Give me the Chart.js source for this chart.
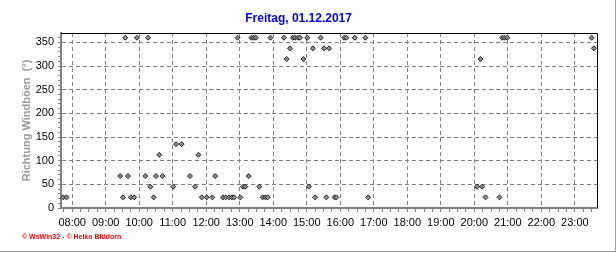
<!DOCTYPE html>
<html>
<head>
<meta charset="utf-8">
<script src="https://cdn.jsdelivr.net/npm/chart.js@4/dist/chart.umd.min.js"></script>
<style>
  body { margin: 0; background: #fff; }
  #wrap { position: relative; width: 616px; height: 253px; }
  #frame { position: absolute; left: 0; top: 0; width: 615px; height: 251px;
           border-right: 1px solid #a0a0a0; border-bottom: 1px solid #a0a0a0; pointer-events: none; }
  #footer { position: absolute; left: 22px; top: 233px; line-height: 10px;
            font: bold 7px "Liberation Sans", Arial, sans-serif; color: #ff0000; white-space: nowrap; }
</style>
</head>
<body>
<div id="wrap">
  <canvas id="chart" width="616" height="253"></canvas>
  <div id="frame"></div>
  <div id="footer">© WsWin32 - © Heiko Blüdorn</div>
</div>
<script>
// readings (time of day, gust direction in degrees)
const times = [
  '07:44', '07:50', '09:26', '09:31', '09:35', '09:40', '09:45', '09:51', '09:56',
  '10:11', '10:16', '10:20', '10:26', '10:30', '10:36', '10:42',
  '11:01', '11:06', '11:16', '11:31', '11:40', '11:46', '11:52',
  '12:01', '12:11', '12:16', '12:30', '12:35', '12:41', '12:46', '12:50', '12:56',
  '13:01', '13:06', '13:10', '13:16', '13:21', '13:25', '13:29', '13:35', '13:41', '13:46', '13:50', '13:55',
  '14:19', '14:24', '14:30', '14:35', '14:39', '14:44', '14:48', '14:54',
  '15:01', '15:04', '15:11', '15:15', '15:25', '15:31', '15:35', '15:40', '15:50', '15:53',
  '16:07', '16:11', '16:26', '16:45', '16:50',
  '20:05', '20:11', '20:14', '20:20', '20:45', '20:50', '20:54', '20:59',
  '23:30', '23:34'
];
const directions = [
  22.5, 22.5, 67.5, 22.5, 360, 67.5, 22.5, 22.5, 360,
  67.5, 360, 45, 22.5, 67.5, 112.5, 67.5,
  45, 135, 135, 67.5, 45, 112.5, 22.5,
  22.5, 22.5, 67.5, 22.5, 22.5, 22.5, 22.5, 22.5, 360,
  22.5, 45, 45, 67.5, 360, 360, 360, 45, 22.5, 22.5, 22.5, 360,
  360, 315, 337.5, 360, 360, 360, 360, 315,
  360, 45, 337.5, 22.5, 360, 337.5, 22.5, 337.5, 22.5, 22.5,
  360, 360, 360, 360, 22.5,
  45, 315, 45, 22.5, 22.5, 360, 360, 360,
  360, 337.5
];

const xStart = '07:40';
const xEnd = '23:40';
const yMax = 370;

function toMin(t) {
  const p = t.split(':');
  return parseInt(p[0]) * 60 + parseInt(p[1]);
}
function pad(n) {
  return (n < 10 ? '0' : '') + n;
}

const points = times.map((t, i) => ({ x: toMin(t), y: directions[i] }));

// black top/right frame of the plot
const plotFrame = {
  id: 'plotFrame',
  afterDraw(chart) {
    const a = chart.chartArea;
    const ctx = chart.ctx;
    ctx.save();
    ctx.strokeStyle = '#000';
    ctx.lineWidth = 1;
    ctx.beginPath();
    ctx.moveTo(a.left, Math.floor(a.top) + 0.5);
    ctx.lineTo(Math.floor(a.right) + 0.5, Math.floor(a.top) + 0.5);
    ctx.lineTo(Math.floor(a.right) + 0.5, a.bottom);
    ctx.stroke();
    ctx.restore();
  }
};

const gridGray = '#808080';

new Chart(document.getElementById('chart'), {
  type: 'scatter',
  data: {
    datasets: [{
      data: points,
      pointStyle: 'rectRot',
      pointRadius: 2.5,
      backgroundColor: '#909090',
      borderColor: '#202020',
      borderWidth: 1
    }]
  },
  options: {
    responsive: false,
    animation: false,
    layout: { padding: { left: 0, right: 18.8, top: 0, bottom: 0 } },
    plugins: {
      legend: { display: false },
      tooltip: { enabled: false },
      title: {
        display: true,
        text: 'Freitag, 01.12.2017',
        color: '#0000ff',
        font: { family: '"Liberation Sans", Arial, sans-serif', size: 12, weight: 'bold' },
        padding: { top: 11, bottom: 7.6 }
      }
    },
    scales: {
      x: {
        type: 'linear',
        min: toMin(xStart),
        max: toMin(xEnd),
        afterBuildTicks: (scale) => {
          const ticks = [];
          for (let v = 465; v <= 1410; v += 15) ticks.push({ value: v });
          scale.ticks = ticks;
        },
        afterFit: (scale) => { scale.height = 45; },
        ticks: {
          autoSkip: false,
          maxRotation: 0,
          padding: 4,
          color: '#000',
          font: { family: '"Liberation Sans", Arial, sans-serif', size: 11 },
          callback: (v) => (v % 60 === 0 ? pad(v / 60) + ':00' : '')
        },
        grid: {
          color: (c) => (c.tick && c.tick.value % 60 === 0 ? gridGray : 'rgba(0,0,0,0)'),
          tickColor: gridGray,
          tickLength: 4
        },
        border: { color: gridGray, width: 2, dash: [4, 3] }
      },
      y: {
        min: 0,
        max: yMax,
        afterBuildTicks: (scale) => {
          const ticks = [];
          for (let v = 0; v <= 360; v += 10) ticks.push({ value: v });
          scale.ticks = ticks;
        },
        afterFit: (scale) => { scale.width = 61; },
        ticks: {
          autoSkip: false,
          padding: 4,
          color: '#000',
          font: { family: '"Liberation Sans", Arial, sans-serif', size: 11 },
          callback: (v) => (v % 50 === 0 ? v : '')
        },
        grid: {
          color: (c) => (c.tick && c.tick.value % 50 === 0 ? gridGray : 'rgba(0,0,0,0)'),
          tickColor: gridGray,
          tickLength: 3
        },
        border: { color: gridGray, width: 2, dash: [4, 3] },
        title: {
          display: true,
          text: 'Richtung Windböen  (°)',
          color: '#999999',
          font: { family: '"Liberation Sans", Arial, sans-serif', size: 11, weight: 'bold' },
          padding: { top: 20, bottom: 0 }
        }
      }
    }
  },
  plugins: [plotFrame]
});
</script>
</body>
</html>
